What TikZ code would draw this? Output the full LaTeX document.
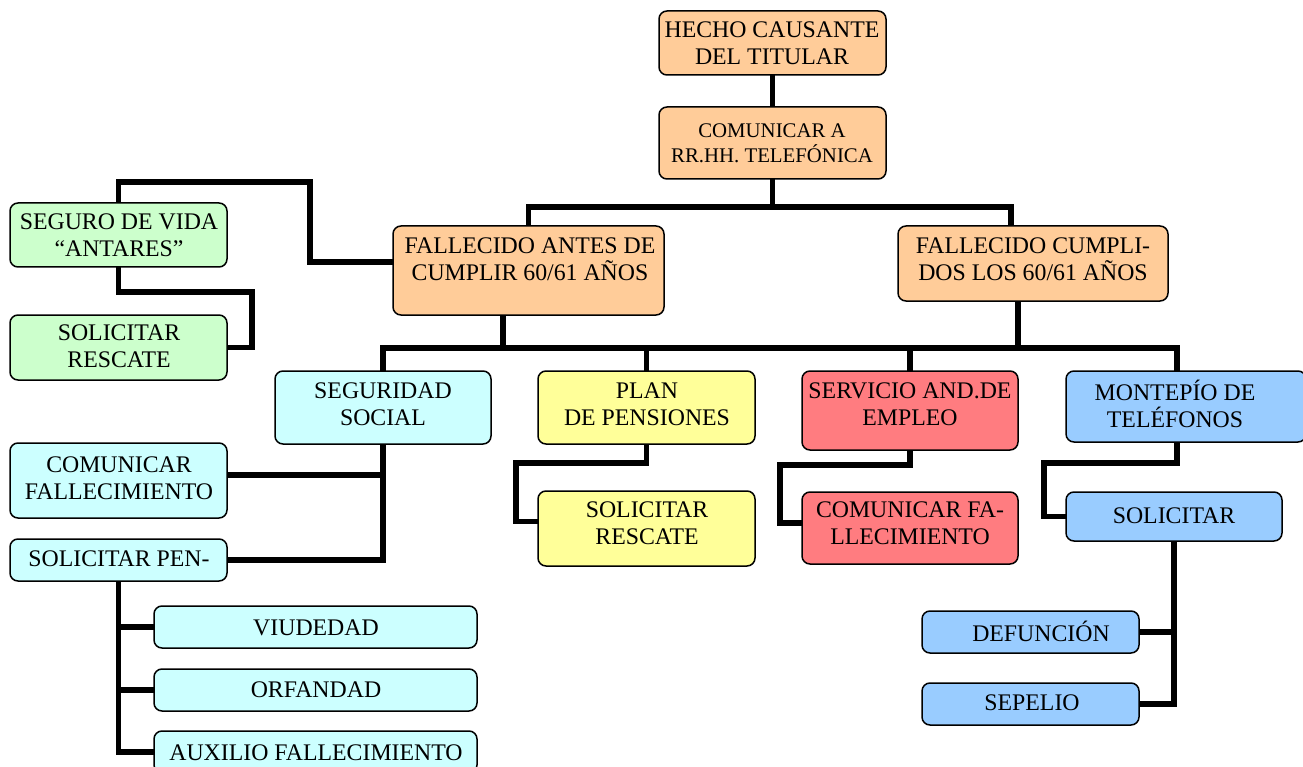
\documentclass[tikz,border=0pt]{standalone}
\usepackage{fontspec}
\setmainfont{Liberation Serif}
\definecolor{cOr}{HTML}{FFCC99}
\definecolor{cGr}{HTML}{CCFFCC}
\definecolor{cCy}{HTML}{CCFFFF}
\definecolor{cYe}{HTML}{FFFF99}
\definecolor{cRe}{HTML}{FF7C80}
\definecolor{cBl}{HTML}{99CCFF}
\tikzset{
  box/.style={draw=black, line width=1.5pt, rounded corners=8pt, inner sep=0pt, outer sep=0pt, anchor=north west},
  lbl/.style={align=center, inner sep=0pt, font=\fontsize{23.8}{27}\selectfont},
  lbls/.style={align=center, inner sep=0pt, font=\fontsize{20.8}{25}\selectfont},
  conn/.style={draw=black, line width=5.5pt, line join=miter},
}
\begin{document}
\begin{tikzpicture}[x=1pt,y=-1pt]
\useasboundingbox (0,0) rectangle (1303,767);
\clip (0,0) rectangle (1303,767);
\fill[white] (0,0) rectangle (1303,767);
\coordinate (h1) at (772,207);
\coordinate (row) at (0,348);
% boxes
\node[box, fill=cOr, minimum width=227pt, minimum height=64pt] (hecho) at (659,11) {};
\node[box, fill=cOr, minimum width=227pt, minimum height=72pt] (com) at (659,107) {};
\node[box, fill=cOr, minimum width=271pt, minimum height=89pt] (fa) at (393,226) {};
\node[box, fill=cOr, minimum width=270pt, minimum height=75pt] (fc) at (898,226) {};
\node[box, fill=cGr, minimum width=217pt, minimum height=64pt] (seguro) at (10,203) {};
\node[box, fill=cGr, minimum width=217pt, minimum height=65pt] (solg) at (10,315) {};
\node[box, fill=cCy, minimum width=216pt, minimum height=73pt] (ss) at (275,371) {};
\node[box, fill=cYe, minimum width=217pt, minimum height=73pt] (plan) at (538,371) {};
\node[box, fill=cRe, minimum width=216pt, minimum height=79pt] (serv) at (802,371) {};
\node[box, fill=cBl, minimum width=240pt, minimum height=71pt] (mont) at (1066,371) {};
\node[box, fill=cCy, minimum width=217pt, minimum height=75pt] (comf) at (10,443) {};
\node[box, fill=cCy, minimum width=217pt, minimum height=42pt] (solpen) at (10,539) {};
\node[box, fill=cYe, minimum width=217pt, minimum height=75pt] (soly) at (538,491) {};
\node[box, fill=cRe, minimum width=216pt, minimum height=72pt] (comfa) at (802,492) {};
\node[box, fill=cBl, minimum width=216pt, minimum height=49pt] (sol) at (1066,492) {};
\node[box, fill=cCy, minimum width=323pt, minimum height=42pt] (viu) at (154,606) {};
\node[box, fill=cCy, minimum width=323pt, minimum height=42pt] (orf) at (154,669) {};
\node[box, fill=cCy, minimum width=323pt, minimum height=42pt] (aux) at (154,731) {};
\node[box, fill=cBl, minimum width=217pt, minimum height=42pt] (def) at (922,611) {};
\node[box, fill=cBl, minimum width=217pt, minimum height=42pt] (sep) at (922,683) {};
% labels
\node[lbl] at (772,43) {HECHO CAUSANTE\\DEL TITULAR};
\node[lbls] at (772,143) {COMUNICAR A\\RR.HH. TELEFÓNICA};
\node[lbl] at (530,259.5) {FALLECIDO ANTES DE\\CUMPLIR 60/61 AÑOS};
\node[lbl] at (1033,259.5) {FALLECIDO CUMPLI-\\DOS LOS 60/61 AÑOS};
\node[lbl] at (119,235) {SEGURO DE VIDA\\“ANTARES”};
\node[lbl] at (119,346.5) {SOLICITAR\\RESCATE};
\node[lbl] at (383,404.5) {SEGURIDAD\\SOCIAL};
\node[lbl] at (647,404.5) {PLAN\\DE PENSIONES};
\node[lbl] at (910,404.5) {SERVICIO AND.DE\\EMPLEO};
\node[lbl] at (1175,404) {MONTEPÍO DE\\TELÉFONOS};
\node[lbl] at (119,478) {COMUNICAR\\FALLECIMIENTO};
\node[lbl] at (119,559) {SOLICITAR PEN-};
\node[lbl] at (647,523.5) {SOLICITAR\\RESCATE};
\node[lbl] at (910,523.5) {COMUNICAR FA-\\LLECIMIENTO};
\node[lbl] at (1174,516) {SOLICITAR};
\node[lbl] at (316,628) {VIUDEDAD};
\node[lbl] at (316,690) {ORFANDAD};
\node[lbl] at (316,753) {AUXILIO FALLECIMIENTO};
\node[lbl] at (1041,631) {DEFUNCIÓN};
\node[lbl] at (1032,703) {SEPELIO};
% connectors
\draw[conn] (hecho.south) -- (com.north);
\draw[conn] (com.south) -- (com.south |- h1);
\draw[conn] (fa.north) -- (fa.north |- h1) -- ([xshift=-22pt]fc.north |- h1) -- ([xshift=-22pt]fc.north);
\draw[conn] ([yshift=8.5pt]fa.west) -- ++(-83,0) -- ++(0,-80) -| (seguro.north);
\draw[conn] (seguro.south) -- ++(0,25) -| ([xshift=25pt]solg.east) -- (solg.east);
\draw[conn] ([xshift=-25.5pt]fa.south) -- ([xshift=-25.5pt]fa.south |- row);
\draw[conn] ([xshift=-15pt]fc.south) -- ([xshift=-15pt]fc.south |- row);
\draw[conn] (ss.north) -- (ss.north |- row) -- ([xshift=-9pt]mont.north |- row) -- ([xshift=-9pt]mont.north);
\draw[conn] (plan.north) -- (plan.north |- row);
\draw[conn] (serv.north) -- (serv.north |- row);
\draw[conn] (ss.south) |- (solpen.east);
\draw[conn] ([yshift=5.5pt]comf.east) -- ([yshift=5.5pt]comf.east -| ss.south);
\draw[conn] (solpen.south) |- (aux.west);
\draw[conn] (viu.west) -- (viu.west -| solpen.south);
\draw[conn] (orf.west) -- (orf.west -| solpen.south);
\draw[conn] (plan.south) -- ++(0,19) -| ([xshift=-22pt,yshift=7pt]soly.west) -- ([yshift=7pt]soly.west);
\draw[conn] (serv.south) -- ++(0,15) -| ([xshift=-22pt,yshift=5pt]comfa.west) -- ([yshift=5pt]comfa.west);
\draw[conn] ([xshift=-9pt]mont.south) -- ++(0,21) -| ([xshift=-22pt]sol.west) -- (sol.west);
\draw[conn] (sol.south) |- (sep.east);
\draw[conn] (def.east) -- (def.east -| sol.south);
\end{tikzpicture}
\end{document}
